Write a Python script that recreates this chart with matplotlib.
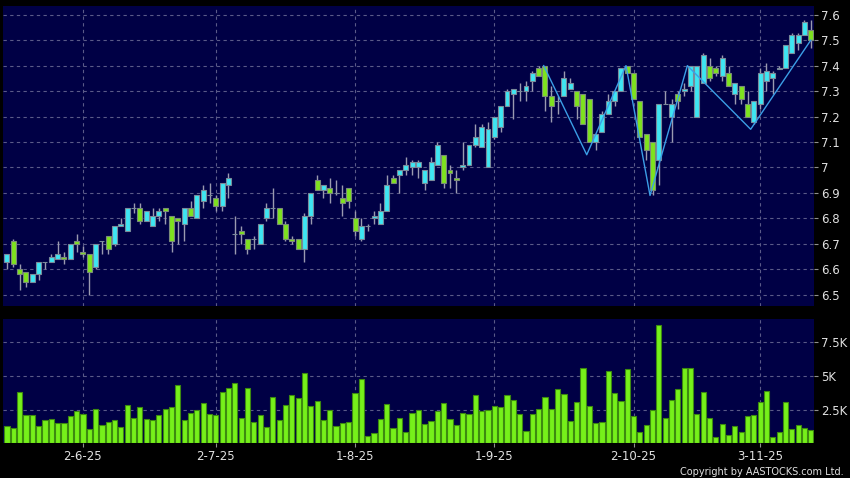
import matplotlib
matplotlib.use("Agg")
import matplotlib.pyplot as plt
import numpy as np

# daily candles (open, high, low, close)
opens = [6.63, 6.71, 6.60, 6.59, 6.55, 6.58, 6.63, 6.63, 6.64, 6.65, 6.64, 6.71, 6.67, 6.66, 6.61, 6.71,
         6.73, 6.70, 6.77, 6.75, 6.84, 6.84, 6.79, 6.77, 6.81, 6.84, 6.81, 6.80, 6.78, 6.84, 6.80, 6.87,
         6.89, 6.88, 6.85, 6.93, 6.74, 6.75, 6.72, 6.72, 6.70, 6.80, 6.84, 6.84, 6.78, 6.72, 6.72, 6.68,
         6.81, 6.95, 6.91, 6.92, 6.90, 6.88, 6.92, 6.80, 6.72, 6.77, 6.80, 6.78, 6.83, 6.96, 6.97, 6.99,
         7.00, 7.00, 6.94, 6.95, 7.01, 7.05, 6.99, 6.96, 7.00, 7.01, 7.09, 7.08, 7.00, 7.12, 7.16, 7.24,
         7.29, 7.30, 7.30, 7.34, 7.39, 7.40, 7.28, 7.26, 7.28, 7.31, 7.30, 7.29, 7.27, 7.10, 7.14, 7.21,
         7.26, 7.30, 7.40, 7.37, 7.26, 7.13, 7.10, 7.03, 7.25, 7.20, 7.29, 7.30, 7.32, 7.20, 7.33, 7.40,
         7.39, 7.36, 7.37, 7.29, 7.32, 7.25, 7.18, 7.25, 7.34, 7.35, 7.385, 7.39, 7.45, 7.49, 7.52, 7.54]
highs = [6.66, 6.72, 6.62, 6.59, 6.58, 6.63, 6.63, 6.66, 6.71, 6.67, 6.70, 6.74, 6.69, 6.66, 6.70, 6.71,
         6.73, 6.77, 6.80, 6.84, 6.86, 6.86, 6.83, 6.84, 6.84, 6.84, 6.81, 6.80, 6.84, 6.87, 6.89, 6.93,
         6.94, 6.89, 6.94, 6.98, 6.81, 6.77, 6.72, 6.73, 6.78, 6.86, 6.92, 6.84, 6.79, 6.73, 6.72, 6.82,
         6.90, 6.97, 6.93, 6.96, 6.95, 6.93, 6.92, 6.83, 6.80, 6.78, 6.83, 6.86, 6.97, 6.97, 6.99, 7.04,
         7.03, 7.03, 6.99, 7.04, 7.10, 7.05, 7.01, 6.99, 7.10, 7.09, 7.17, 7.17, 7.18, 7.20, 7.24, 7.31,
         7.31, 7.33, 7.34, 7.38, 7.40, 7.40, 7.32, 7.28, 7.38, 7.35, 7.30, 7.29, 7.27, 7.13, 7.22, 7.29,
         7.30, 7.39, 7.40, 7.37, 7.26, 7.13, 7.10, 7.25, 7.30, 7.27, 7.30, 7.33, 7.40, 7.40, 7.45, 7.43,
         7.40, 7.44, 7.40, 7.33, 7.32, 7.30, 7.26, 7.39, 7.41, 7.38, 7.40, 7.48, 7.53, 7.53, 7.58, 7.58]
lows = [6.60, 6.61, 6.52, 6.53, 6.55, 6.56, 6.60, 6.63, 6.64, 6.62, 6.64, 6.67, 6.65, 6.50, 6.60, 6.66,
        6.66, 6.69, 6.77, 6.75, 6.82, 6.78, 6.79, 6.77, 6.79, 6.78, 6.67, 6.70, 6.71, 6.81, 6.80, 6.84,
        6.86, 6.83, 6.83, 6.88, 6.66, 6.70, 6.66, 6.68, 6.70, 6.79, 6.80, 6.78, 6.71, 6.70, 6.68, 6.63,
        6.78, 6.91, 6.88, 6.86, 6.89, 6.81, 6.84, 6.73, 6.71, 6.75, 6.78, 6.78, 6.83, 6.94, 6.90, 6.97,
        6.97, 6.96, 6.91, 6.95, 7.01, 6.92, 6.92, 6.90, 6.99, 7.01, 7.08, 7.08, 7.00, 7.11, 7.14, 7.24,
        7.19, 7.26, 7.26, 7.30, 7.36, 7.22, 7.18, 7.21, 7.28, 7.31, 7.19, 7.17, 7.10, 7.07, 7.14, 7.21,
        7.24, 7.30, 7.37, 7.27, 7.12, 7.03, 6.89, 6.93, 7.25, 7.10, 7.23, 7.28, 7.30, 7.20, 7.33, 7.34,
        7.36, 7.34, 7.32, 7.25, 7.25, 7.20, 7.17, 7.23, 7.30, 7.29, 7.385, 7.39, 7.45, 7.46, 7.52, 7.47]
closes = [6.66, 6.62, 6.58, 6.55, 6.58, 6.63, 6.63, 6.65, 6.66, 6.64, 6.70, 6.70, 6.66, 6.59, 6.70, 6.71,
          6.68, 6.77, 6.78, 6.84, 6.84, 6.79, 6.83, 6.81, 6.83, 6.83, 6.71, 6.79, 6.84, 6.81, 6.89, 6.91,
          6.89, 6.85, 6.94, 6.96, 6.74, 6.74, 6.68, 6.72, 6.78, 6.84, 6.84, 6.78, 6.72, 6.71, 6.68, 6.81,
          6.90, 6.91, 6.93, 6.90, 6.90, 6.86, 6.87, 6.75, 6.77, 6.77, 6.81, 6.83, 6.93, 6.94, 6.99, 7.01,
          7.02, 7.02, 6.99, 7.02, 7.09, 6.94, 6.98, 6.95, 7.01, 7.09, 7.12, 7.16, 7.15, 7.20, 7.24, 7.30,
          7.31, 7.30, 7.32, 7.37, 7.36, 7.28, 7.24, 7.26, 7.35, 7.33, 7.24, 7.17, 7.10, 7.13, 7.21, 7.26,
          7.30, 7.39, 7.37, 7.27, 7.12, 7.07, 6.91, 7.25, 7.25, 7.25, 7.26, 7.31, 7.40, 7.40, 7.44, 7.35,
          7.37, 7.43, 7.32, 7.33, 7.27, 7.20, 7.26, 7.37, 7.38, 7.37, 7.39, 7.48, 7.52, 7.52, 7.57, 7.50]
volume = [1270, 1130, 3820, 2110, 2110, 1320, 1720, 1810, 1490, 1490, 2030, 2380, 2160, 1050, 2520, 1350,
          1570, 1760, 1200, 2870, 1890, 2670, 1840, 1720, 2110, 2520, 2700, 4290, 1760, 2230, 2470, 2960,
          2210, 2110, 3820, 4120, 4480, 1910, 4090, 1570, 2080, 1230, 3430, 1740, 2820, 3550, 3330, 5220,
          2770, 3140, 1720, 2450, 1300, 1540, 1570, 3700, 4780, 540, 810, 1840, 2940, 1130, 1860, 860,
          2230, 2450, 1420, 1640, 2430, 2960, 1840, 1350, 2250, 2160, 3580, 2380, 2470, 2790, 2700, 3600,
          3230, 2210, 960, 2180, 2570, 3430, 2520, 4020, 3650, 1670, 3060, 5590, 2740, 1520, 1590, 5390,
          3700, 3140, 5540, 2010, 860, 1400, 2500, 8770, 1910, 3230, 4040, 5590, 5590, 2160, 3820, 1890,
          470, 1450, 660, 1270, 830, 2010, 2080, 3090, 3870, 510, 830, 3060, 1050, 1400, 1130, 1030]

# zigzag overlay (bar position, price)
zig_x = [84.8, 91.6, 97.8, 101.6, 107.5, 117.5, 127.0]
zig_y = [7.40, 7.05, 7.40, 6.89, 7.40, 7.15, 7.50]

date_idx = [12, 33, 55, 77, 99, 119]
date_lbl = ['2-6-25', '2-7-25', '1-8-25', '1-9-25', '2-10-25', '3-11-25']

price_ticks = [6.5, 6.6, 6.7, 6.8, 6.9, 7.0, 7.1, 7.2, 7.3, 7.4, 7.5, 7.6]
vol_ticks = [2500, 5000, 7500]
vol_lbl = ['2.5K', '5K', '7.5K']

bg = '#000045'
up_c = '#3ee6f2'
dn_c = '#7ee21e'
grid_c = '#5a5a88'
txt_c = '#e0e0e0'

fig = plt.figure(figsize=(8.5, 4.78), dpi=100, facecolor='black')
ax = fig.add_axes([0.0041, 0.3598, 0.9535, 0.6276], facecolor=bg)
axv = fig.add_axes([0.0041, 0.0722, 0.9535, 0.2604], facecolor=bg)

x = np.arange(len(opens))
o = np.array(opens); c = np.array(closes)
h = np.array(highs); l = np.array(lows)
up = c >= o

ax.vlines(x, l, h, color='#9a9ab0', lw=1, zorder=2)
body_bot = np.minimum(o, c)
body_h = np.abs(c - o)
ax.bar(x[up], body_h[up], bottom=body_bot[up], width=0.78, color=up_c,
       edgecolor='#7a8a9a', lw=0.8, zorder=3)
ax.bar(x[~up], body_h[~up], bottom=body_bot[~up], width=0.78, color=dn_c,
       edgecolor='#7a8a7a', lw=0.8, zorder=3)
ax.plot(zig_x, zig_y, color='#3b9ee6', lw=1, zorder=4)

axv.bar(x, volume, width=0.82, color='#76f01a', edgecolor='#3d8a10', lw=0.8, zorder=3)

for a in (ax, axv):
    a.set_xlim(-0.55, 127.5)
    for s in a.spines.values():
        s.set_visible(False)
    a.yaxis.tick_right()
    a.tick_params(axis='y', colors='#909090', labelcolor=txt_c, labelsize=8.5, length=3, pad=2)
    a.set_xticks(date_idx)
    for d in date_idx:
        a.axvline(d, color=grid_c, lw=0.8, ls=(0, (3, 3)), zorder=1)

ax.set_ylim(6.456, 7.634)
ax.set_yticks(price_ticks)
ax.set_yticklabels([f'{v:g}' for v in price_ticks])
for v in price_ticks:
    ax.axhline(v, color=grid_c, lw=0.8, ls=(0, (3, 3)), zorder=1)
ax.tick_params(axis='x', length=0, labelbottom=False)

axv.set_ylim(0, 9200)
axv.set_yticks(vol_ticks)
axv.set_yticklabels(vol_lbl)
for v in vol_ticks:
    axv.axhline(v, color=grid_c, lw=0.8, ls=(0, (3, 3)), zorder=1)
axv.set_xticklabels(date_lbl)
axv.tick_params(axis='x', colors='#909090', labelcolor=txt_c, labelsize=8.5, length=3, pad=2)

fig.text(0.992, 0.003, 'Copyright by AASTOCKS.com Ltd.', color=txt_c, fontsize=7,
         ha='right', va='bottom')

fig.savefig('out.png', dpi=100, facecolor='black')
